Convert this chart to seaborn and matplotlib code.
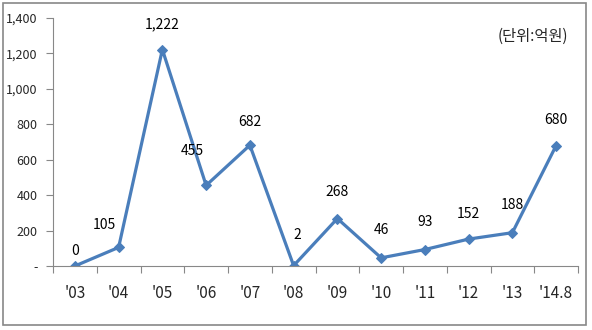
import matplotlib
matplotlib.use("Agg")
import matplotlib.pyplot as plt
import seaborn as sns
import pandas as pd
from matplotlib.patches import Rectangle

years = ["'03", "'04", "'05", "'06", "'07", "'08", "'09", "'10", "'11", "'12", "'13", "'14.8"]
values = [0, 105, 1222, 455, 682, 2, 268, 46, 93, 152, 188, 680]
y_ticks = [0, 200, 400, 600, 800, 1000, 1200, 1400]
y_tick_labels = ["-", "200", "400", "600", "800", "1,000", "1,200", "1,400"]
unit_text = "(단위:억원)"
# label offsets in points (dx, dy)
label_offsets = [(0, 6), (-10, 11), (0, 13), (-10, 20), (0, 12), (3, 17), (0, 14),
                 (0, 15), (0, 15), (0, 13), (0, 15), (0, 13)]

sns.set_theme(style="white")
plt.rcParams['font.family'] = ['Noto Sans CJK KR', 'DejaVu Sans']

df = pd.DataFrame({"year": years, "value": values, "x": range(len(years))})

fig = plt.figure(figsize=(5.92, 3.30), dpi=100)
ax = fig.add_axes([53/592, 1 - 266/330, 525/592, 248/330])

color = "#4A7EBB"
sns.lineplot(data=df, x="x", y="value", ax=ax, color=color, linewidth=2.3,
             marker="D", markersize=5.5, markeredgecolor=color, markerfacecolor=color)

for i, v in enumerate(values):
    dx, dy = label_offsets[i]
    ax.annotate(f"{v:,}", (i, v), xytext=(dx, dy), textcoords="offset points",
                ha="center", va="bottom", fontsize=10, color="#000000")

ax.set_xlim(-0.5, len(years) - 0.5)
ax.set_ylim(0, 1400)
ax.set_yticks(y_ticks)
ax.set_yticklabels(y_tick_labels, fontsize=9)
ax.set_xticks(range(len(years)))
ax.set_xticklabels(years, fontsize=11)
ax.set_xticks([i - 0.5 for i in range(len(years) + 1)], minor=True)
ax.tick_params(axis='x', which='major', length=0, pad=14)
ax.tick_params(axis='x', which='minor', length=5, width=0.8, color="#888888", direction='out', bottom=True)
ax.tick_params(axis='y', length=5, width=0.8, color="#888888", direction='out', left=True, pad=6)
ax.set_xlabel("")
ax.set_ylabel("")
for s in ["top", "right"]:
    ax.spines[s].set_visible(False)
for s in ["left", "bottom"]:
    ax.spines[s].set_color("#888888")
    ax.spines[s].set_linewidth(0.8)

fig.text(568/592, 1 - 36/330, unit_text, ha="right", va="center", fontsize=11)

fig.patches.append(Rectangle((3/592, 5/330), 583/592, 322/330, transform=fig.transFigure,
                             fill=False, edgecolor="#888888", linewidth=1.2))

fig.savefig("out.png", dpi=100)
